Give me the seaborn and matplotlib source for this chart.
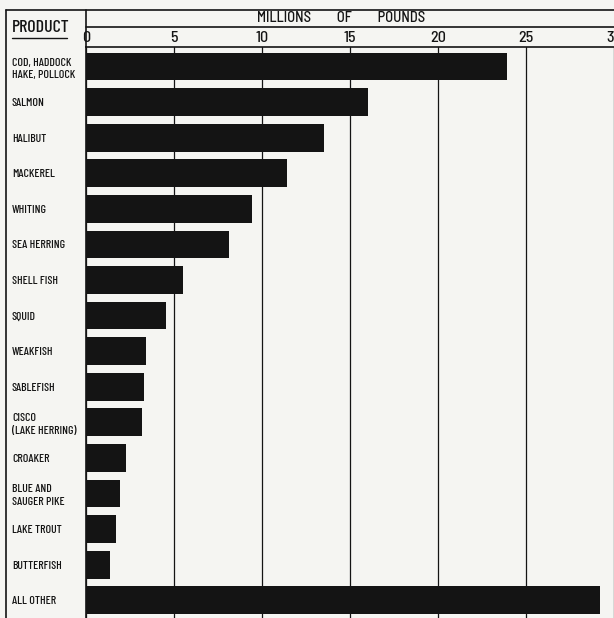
import matplotlib
matplotlib.use("Agg")
import matplotlib.pyplot as plt
import seaborn as sns
import pandas as pd
from matplotlib.lines import Line2D

# ---- data ----
products = [
    "COD, HADDOCK\nHAKE, POLLOCK",
    "SALMON",
    "HALIBUT",
    "MACKEREL",
    "WHITING",
    "SEA HERRING",
    "SHELL FISH",
    "SQUID",
    "WEAKFISH",
    "SABLEFISH",
    "CISCO\n(LAKE HERRING)",
    "CROAKER",
    "BLUE AND\nSAUGER PIKE",
    "LAKE TROUT",
    "BUTTERFISH",
    "ALL OTHER",
]
values = [23.9, 16.0, 13.5, 11.4, 9.45, 8.1, 5.5, 4.55, 3.4, 3.3, 3.2, 2.3, 1.95, 1.7, 1.35, 29.2]
ticks = [0, 5, 10, 15, 20, 25, 30]
tick_labels = ["0", "5", "10", "15", "20", "25", "30"]
axis_title = "MILLIONS         OF         POUNDS"
column_title = "PRODUCT"

bg = "#f5f5f2"
ink = "#141414"

sns.set_theme(style="white")
plt.rcParams["font.family"] = ["Barlow Semi Condensed", "Barlow Condensed", "DejaVu Sans"]
plt.rcParams["font.weight"] = "medium"
narrow = ["Barlow Condensed", "DejaVu Sans"]

W, H = 614, 618
fig = plt.figure(figsize=(W / 100, H / 100), dpi=100, facecolor=bg)
ax = fig.add_axes([86 / W, 0, 1 - 86 / W, 1 - 47 / H])

df = pd.DataFrame({"product": products, "value": values})
sns.barplot(data=df, x="value", y="product", orient="h", color=ink,
            saturation=1, width=0.78, edgecolor=ink, linewidth=0, ax=ax)

ax.set_facecolor(bg)
ax.set_xlim(0, 30)
ax.set_ylim(15.5, -0.55)
ax.set_xlabel("")
ax.set_ylabel("")

ax.xaxis.tick_top()
ax.set_xticks(ticks)
ax.set_xticklabels(tick_labels, fontsize=11.5, color=ink)
ax.tick_params(axis="x", length=0, pad=1.5)
ax.grid(axis="x", color=ink, linewidth=0.9)
ax.grid(axis="y", visible=False)
ax.set_axisbelow(True)

ax.tick_params(axis="y", length=0, pad=53.3)
for lab in ax.get_yticklabels():
    lab.set_ha("left")
    lab.set_family(narrow)
    lab.set_fontsize(8.5)
    lab.set_color(ink)
    lab.set_linespacing(1.35)

for s in ["right", "bottom"]:
    ax.spines[s].set_visible(False)
for s in ["left", "top"]:
    ax.spines[s].set_color(ink)
    ax.spines[s].set_linewidth(1.2)

def fline(x0, y0, x1, y1, lw=1.2):
    fig.add_artist(Line2D([x0 / W, x1 / W], [1 - y0 / H, 1 - y1 / H],
                          transform=fig.transFigure, color=ink, linewidth=lw))

fline(6, 10, 6, H)          # outer left border
fline(6, 10, W, 10)         # outer top border
fline(86, 10, 86, 47)       # column separator above axes
fline(86, 27, W, 27)        # line under axis title
fline(12, 38, 67, 38, lw=1.0)  # underline of PRODUCT

fig.text(12 / W, 1 - 27.5 / H, column_title, ha="left", va="center",
         fontsize=13, family=narrow, color=ink)
fig.text(341 / W, 1 - 18.5 / H, axis_title, ha="center", va="center",
         fontsize=10.5, color=ink)

fig.savefig("out.png", dpi=100, facecolor=bg)
